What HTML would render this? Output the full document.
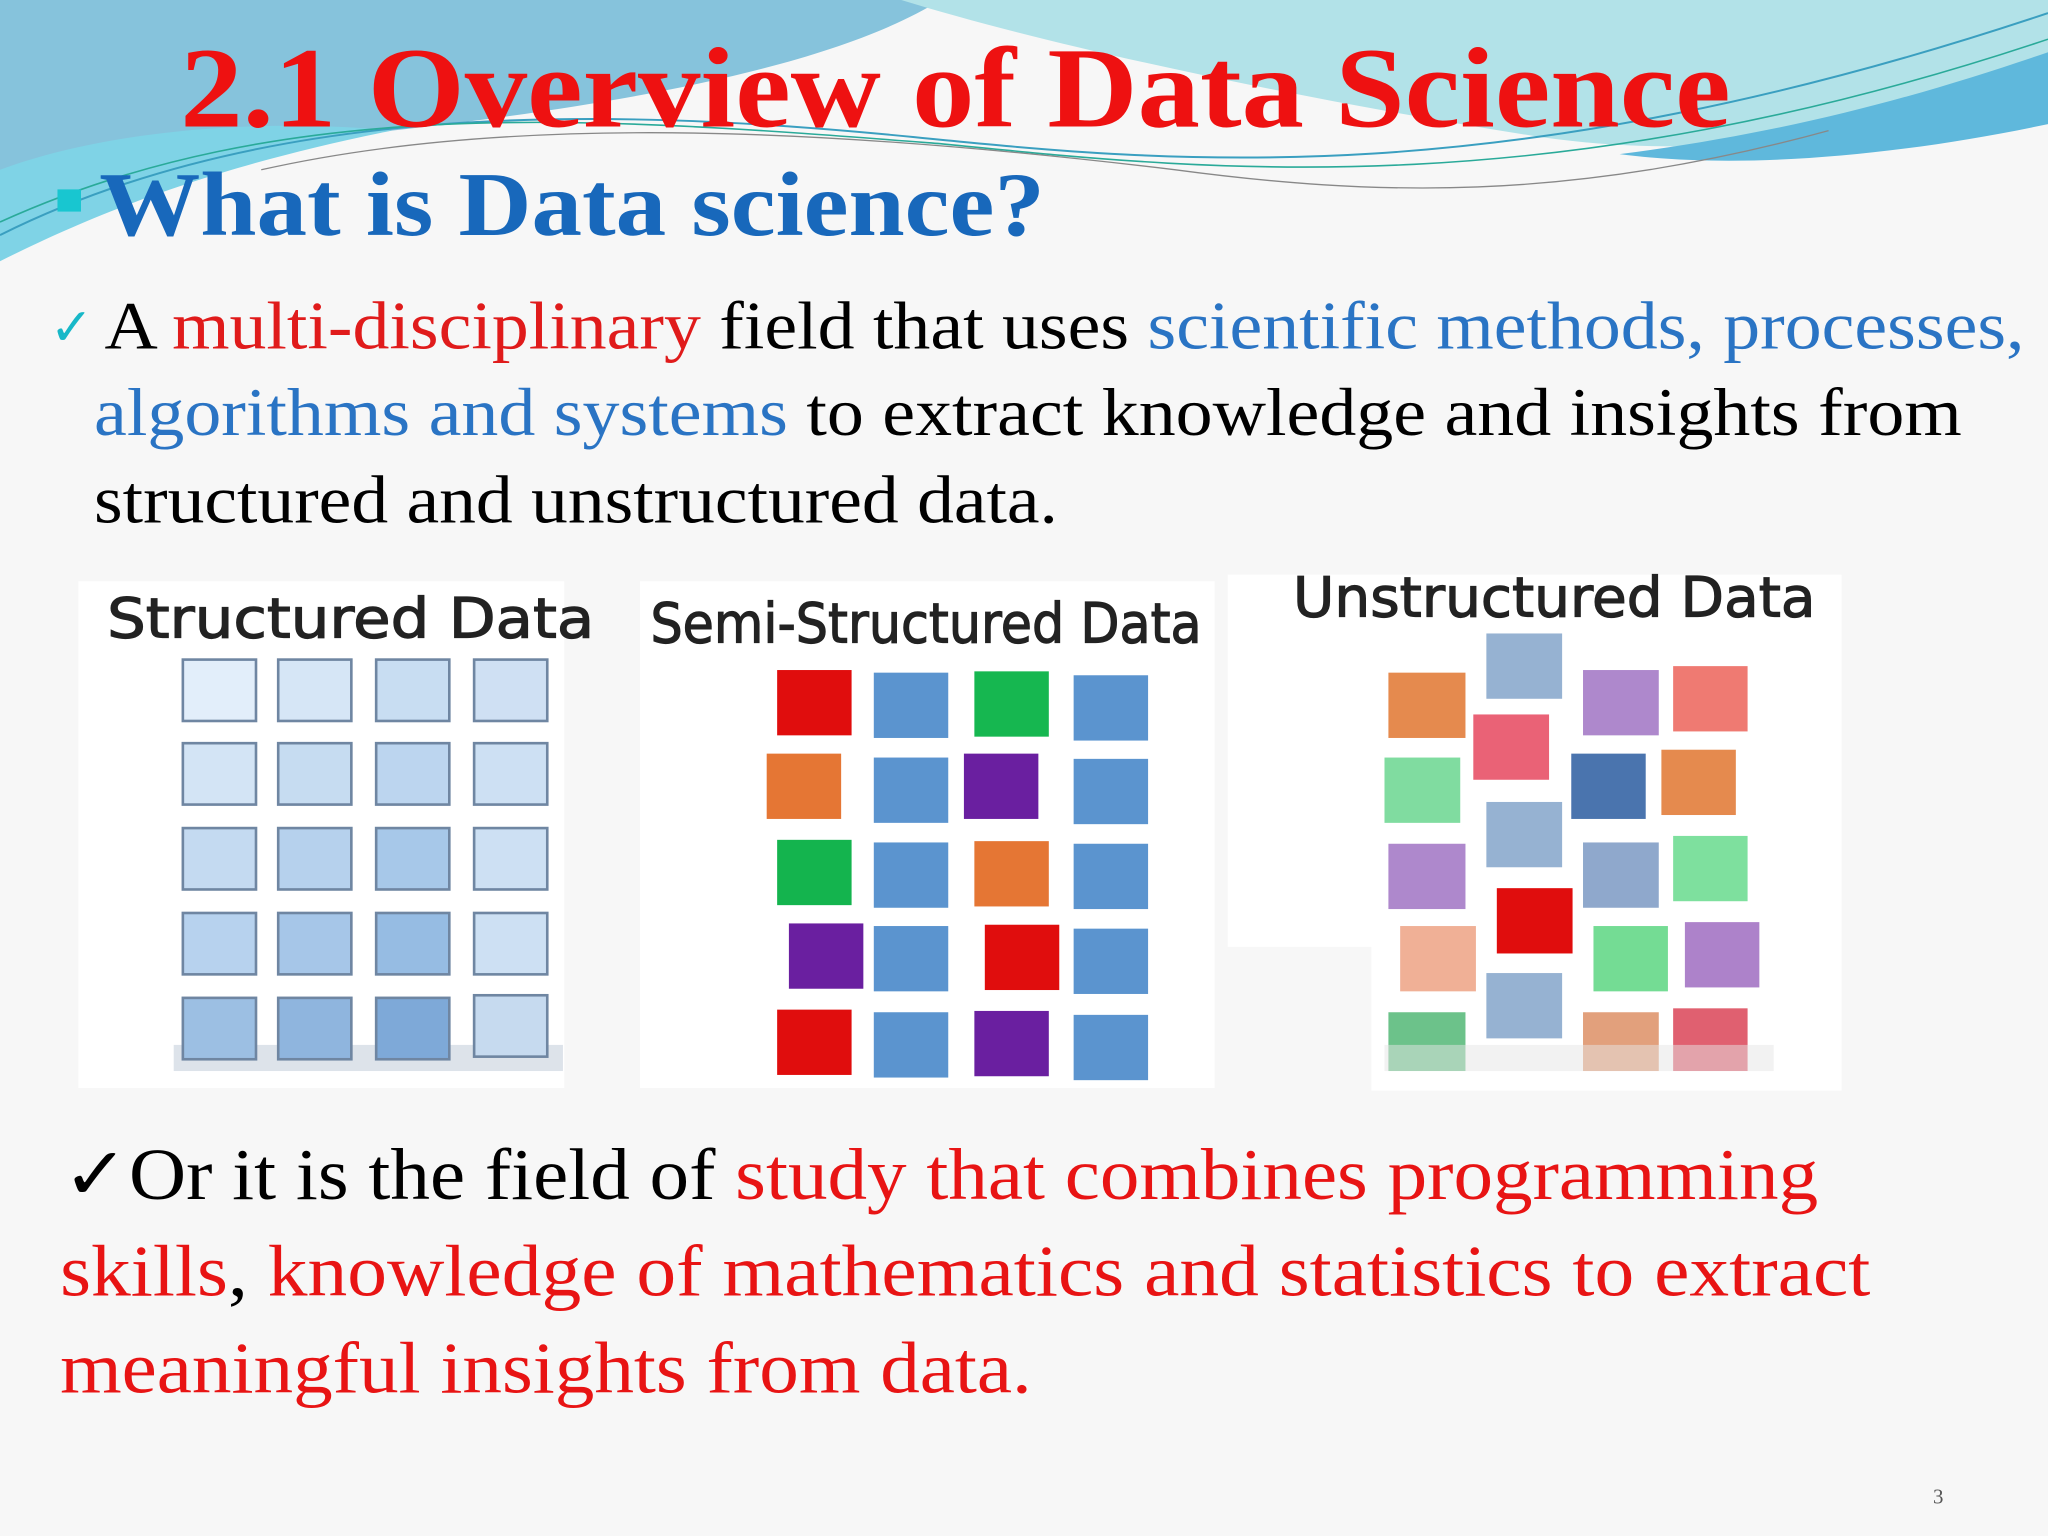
<!DOCTYPE html>
<html><head><meta charset="utf-8"><style>
html,body{margin:0;padding:0;background:#f8f8f8;}
svg{display:block;}
</style></head><body>
<svg width="2048" height="1536" viewBox="0 0 1568 1176" xmlns="http://www.w3.org/2000/svg">
<rect width="1568" height="1176" fill="#f7f7f7"/>
<g>
<path d="M0,0 L720,0 C640,50 480,80 300,100 C150,120 60,160 0,190 Z" fill="#86c3dc"/>
<path d="M0,130 C80,100 200,90 300,100 C150,130 60,170 0,200 Z" fill="#7fd3e6"/>
<path d="M690,0 L1568,0 L1568,60 C1450,100 1320,125 1180,105 C1020,80 820,40 690,0 Z" fill="#b2e2e8"/>
<path d="M1568,40 L1568,95 C1450,120 1330,130 1240,118 C1380,100 1480,70 1568,40 Z" fill="#5fb8dc"/>
<path d="M0,180 C200,80 450,80 700,105 C900,125 1150,150 1568,10" fill="none" stroke="#3a9fc0" stroke-width="1.5"/>
<path d="M0,170 C220,70 460,90 720,110 C920,130 1180,160 1568,30" fill="none" stroke="#2aaa99" stroke-width="1.2"/>
<path d="M200,130 C400,85 650,100 900,130 C1050,150 1200,155 1400,100" fill="none" stroke="#888" stroke-width="1"/>
</g>
<text font-family="Liberation Serif, serif" x="138" y="97" font-size="88" font-weight="bold" fill="#ee1111" textLength="1187" lengthAdjust="spacingAndGlyphs">2.1 Overview of Data Science</text>
<rect x="44" y="145" width="18" height="17" fill="#18c6d0"/>
<text font-family="Liberation Serif, serif" x="76" y="180" font-size="70" font-weight="bold" fill="#1868bb" textLength="724" lengthAdjust="spacingAndGlyphs">What is Data science?</text>
<text font-family="DejaVu Sans, sans-serif" x="38" y="264" font-size="40" fill="#18b8c8">✓</text>
<g font-family="Liberation Serif, serif" font-size="52">
<text x="80" y="267" textLength="1470" lengthAdjust="spacingAndGlyphs"><tspan fill="#000">A </tspan><tspan fill="#e01b1b">multi-disciplinary</tspan><tspan fill="#000"> field that uses </tspan><tspan fill="#2a74c4">scientific methods, processes,</tspan></text>
<text x="72" y="333" textLength="1430" lengthAdjust="spacingAndGlyphs"><tspan fill="#2a74c4">algorithms and systems</tspan><tspan fill="#000"> to extract knowledge and insights from</tspan></text>
<text x="72" y="400" fill="#000" textLength="738" lengthAdjust="spacingAndGlyphs">structured and unstructured data.</text>
</g>
<rect x="60" y="445" width="372" height="388" fill="#fff"/>
<rect x="490" y="445" width="440" height="388" fill="#fff"/>
<rect x="940" y="440" width="470" height="285" fill="#fff"/>
<rect x="1050" y="490" width="360" height="345" fill="#fff"/>
<g font-family="DejaVu Sans, sans-serif" font-size="42" fill="#222" stroke="#222" stroke-width="0.9">
<text x="82" y="488" textLength="373" lengthAdjust="spacingAndGlyphs">Structured Data</text>
<text x="498" y="492" textLength="422" lengthAdjust="spacingAndGlyphs">Semi-Structured Data</text>
<text x="990" y="472" textLength="400" lengthAdjust="spacingAndGlyphs">Unstructured Data</text>
</g>
<g stroke="#6f86a2" stroke-width="2">
<rect x="133" y="800" width="298" height="20" fill="#dde3ea" stroke="none"/>
<rect x="140" y="505" width="56" height="47" fill="#e2eefa"/><rect x="213" y="505" width="56" height="47" fill="#d6e6f6"/><rect x="288" y="505" width="56" height="47" fill="#c8ddf2"/><rect x="363" y="505" width="56" height="47" fill="#cfe0f3"/>
<rect x="140" y="569" width="56" height="47" fill="#d3e4f5"/><rect x="213" y="569" width="56" height="47" fill="#c6dcf1"/><rect x="288" y="569" width="56" height="47" fill="#bcd5ef"/><rect x="363" y="569" width="56" height="47" fill="#cde0f3"/>
<rect x="140" y="634" width="56" height="47" fill="#c4daf1"/><rect x="213" y="634" width="56" height="47" fill="#b6d1ed"/><rect x="288" y="634" width="56" height="47" fill="#a7c8e9"/><rect x="363" y="634" width="56" height="47" fill="#cde0f3"/>
<rect x="140" y="699" width="56" height="47" fill="#b7d2ee"/><rect x="213" y="699" width="56" height="47" fill="#a6c6e8"/><rect x="288" y="699" width="56" height="47" fill="#96bce3"/><rect x="363" y="699" width="56" height="47" fill="#cde0f3"/>
<rect x="140" y="764" width="56" height="47" fill="#9cbfe3"/><rect x="213" y="764" width="56" height="47" fill="#8fb5de"/><rect x="288" y="764" width="56" height="47" fill="#7ea9d8"/><rect x="363" y="762" width="56" height="47" fill="#c6daef"/>
</g>
<g>
<rect x="595" y="513" width="57" height="50" fill="#e00d0d"/><rect x="669" y="515" width="57" height="50" fill="#5b94cf"/><rect x="746" y="514" width="57" height="50" fill="#16b750"/><rect x="822" y="517" width="57" height="50" fill="#5b94cf"/>
<rect x="587" y="577" width="57" height="50" fill="#e57634"/><rect x="669" y="580" width="57" height="50" fill="#5b94cf"/><rect x="738" y="577" width="57" height="50" fill="#6a1fa0"/><rect x="822" y="581" width="57" height="50" fill="#5b94cf"/>
<rect x="595" y="643" width="57" height="50" fill="#14b44e"/><rect x="669" y="645" width="57" height="50" fill="#5b94cf"/><rect x="746" y="644" width="57" height="50" fill="#e57634"/><rect x="822" y="646" width="57" height="50" fill="#5b94cf"/>
<rect x="604" y="707" width="57" height="50" fill="#6a1fa0"/><rect x="669" y="709" width="57" height="50" fill="#5b94cf"/><rect x="754" y="708" width="57" height="50" fill="#e00d0d"/><rect x="822" y="711" width="57" height="50" fill="#5b94cf"/>
<rect x="595" y="773" width="57" height="50" fill="#e00d0d"/><rect x="669" y="775" width="57" height="50" fill="#5b94cf"/><rect x="746" y="774" width="57" height="50" fill="#6a1fa0"/><rect x="822" y="777" width="57" height="50" fill="#5b94cf"/>
</g>
<g>
<rect x="1063" y="515" width="59" height="50" fill="#e58a4e"/><rect x="1138" y="485" width="58" height="50" fill="#96b2d2"/><rect x="1212" y="513" width="58" height="50" fill="#ae88cc"/><rect x="1281" y="510" width="57" height="50" fill="#ef7a72"/>
<rect x="1128" y="547" width="58" height="50" fill="#ea6276"/><rect x="1060" y="580" width="58" height="50" fill="#80dca0"/><rect x="1203" y="577" width="57" height="50" fill="#4a74ae"/><rect x="1272" y="574" width="57" height="50" fill="#e58a4e"/>
<rect x="1138" y="614" width="58" height="50" fill="#96b2d2"/><rect x="1063" y="646" width="59" height="50" fill="#ae88cc"/><rect x="1212" y="645" width="58" height="50" fill="#8fa8cc"/><rect x="1281" y="640" width="57" height="50" fill="#7ee09e"/>
<rect x="1146" y="680" width="58" height="50" fill="#e00d0d"/><rect x="1072" y="709" width="58" height="50" fill="#f0b096"/><rect x="1220" y="709" width="57" height="50" fill="#74dc94"/><rect x="1290" y="706" width="57" height="50" fill="#ad82ca"/>
<rect x="1138" y="745" width="58" height="50" fill="#96b2d2"/><rect x="1063" y="775" width="59" height="45" fill="#6cc28a"/><rect x="1212" y="775" width="58" height="45" fill="#e2a07c"/><rect x="1281" y="772" width="57" height="48" fill="#e06070"/>
<rect x="1060" y="800" width="298" height="20" fill="#e6e6e6" opacity="0.5"/>
</g>
<g font-family="Liberation Serif, serif" font-size="56">
<text x="48" y="918" textLength="1344" lengthAdjust="spacingAndGlyphs"><tspan fill="#000">✓Or it is the field of </tspan><tspan fill="#e81414">study that combines programming</tspan></text>
<text x="46" y="992" textLength="1386" lengthAdjust="spacingAndGlyphs"><tspan fill="#e81414">skills</tspan><tspan fill="#000">, </tspan><tspan fill="#e81414">knowledge of mathematics and statistics to extract</tspan></text>
<text x="46" y="1066" fill="#e81414" textLength="744" lengthAdjust="spacingAndGlyphs">meaningful insights from data.</text>
</g>
<text font-family="Liberation Serif, serif" x="1480" y="1151" font-size="16" fill="#555">3</text>
</svg>
</body></html>
